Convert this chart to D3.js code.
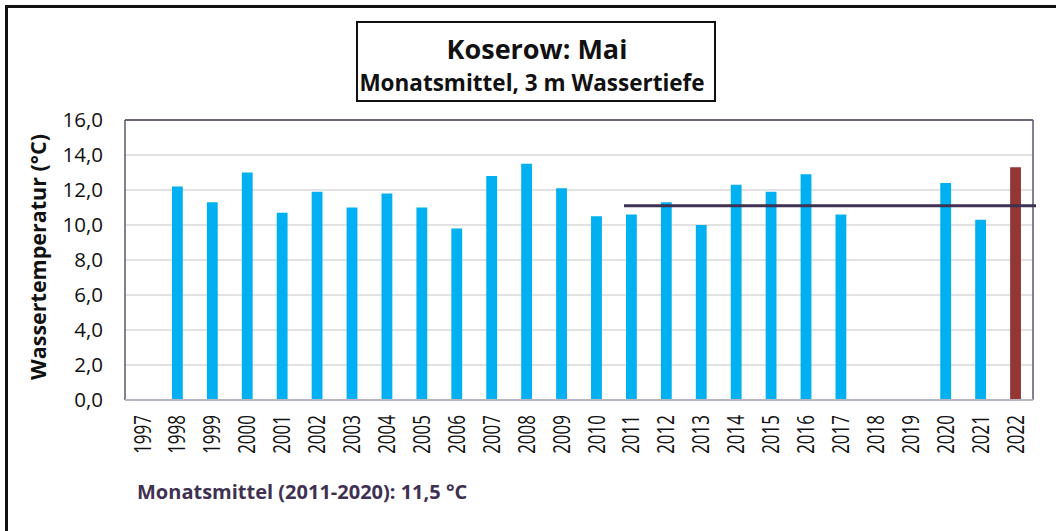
<!DOCTYPE html>
<html>
<head>
<meta charset="utf-8">
<script src="https://cdn.jsdelivr.net/npm/d3@7"></script>
<style>
  body { margin: 0; background: #fff; }
  svg { display: block; }
  text { font-family: "Open Sans", sans-serif; }
</style>
</head>
<body>
<div id="chart"></div>
<script>
// Koserow, May: monthly mean water temperature at 3 m depth
const years = d3.range(1997, 2023).map(String);
const temps = [null, 12.2, 11.3, 13.0, 10.7, 11.9, 11.0, 11.8, 11.0, 9.8,
  12.8, 13.5, 12.1, 10.5, 10.6, 11.3, 10.0, 12.3, 11.9, 12.9,
  10.6, null, null, 12.4, 10.3, 13.3];
const currentYear = '2022';
const meanValue = 11.1;      // drawn level of the 2011-2020 mean line
const meanFrom = '2011';
const yTicks = [0, 2, 4, 6, 8, 10, 12, 14, 16];

const titleText = 'Koserow: Mai';
const subtitleText = 'Monatsmittel, 3 m Wassertiefe';
const yLabel = 'Wassertemperatur (°C)';
const noteText = 'Monatsmittel (2011-2020): 11,5 °C';

const W = 1056, H = 531;
const margin = {top: 120, right: 23, bottom: 131, left: 125};

const data = years.map((y, i) => ({year: y, value: temps[i]}));

const svg = d3.select('#chart').append('svg')
    .attr('width', W)
    .attr('height', H);

// outer frame (only top and left visible)
svg.append('path')
    .attr('d', `M6.5,${H} V6.5 H${W}`)
    .attr('fill', 'none')
    .attr('stroke', '#111')
    .attr('stroke-width', 3);

const x = d3.scaleBand()
    .domain(years)
    .range([margin.left, W - margin.right])
    .paddingInner(0.69)
    .paddingOuter(0.345);

const y = d3.scaleLinear()
    .domain([0, 16])
    .range([H - margin.bottom, margin.top]);

const fmt = d => d3.format('.1f')(d).replace('.', ',');

// gridlines
svg.append('g')
    .attr('class', 'grid')
  .selectAll('line')
  .data(yTicks.filter(d => d > 0 && d < 16))
  .join('line')
    .attr('x1', margin.left)
    .attr('x2', W - margin.right)
    .attr('y1', d => y(d))
    .attr('y2', d => y(d))
    .attr('stroke', '#d9d9d9')
    .attr('stroke-width', 1.5);

// bars
svg.append('g')
    .attr('class', 'bars')
  .selectAll('rect')
  .data(data.filter(d => d.value != null))
  .join('rect')
    .attr('x', d => x(d.year))
    .attr('width', x.bandwidth())
    .attr('y', d => y(d.value))
    .attr('height', d => y(0) - y(d.value))
    .attr('fill', d => d.year === currentYear ? '#943634' : '#00b0f0');

// plot frame
const x0 = margin.left, x1 = W - margin.right;
svg.append('line')
    .attr('x1', x0).attr('x2', x1)
    .attr('y1', y(16)).attr('y2', y(16))
    .attr('stroke', '#3f3151').attr('stroke-width', 1.5);
svg.append('line')
    .attr('x1', x1).attr('x2', x1)
    .attr('y1', y(16)).attr('y2', y(0))
    .attr('stroke', '#5f5370').attr('stroke-width', 1.5);
svg.append('line')
    .attr('x1', x0).attr('x2', x0)
    .attr('y1', y(16)).attr('y2', y(0))
    .attr('stroke', '#5f5370').attr('stroke-width', 1.5);
svg.append('line')
    .attr('x1', x0).attr('x2', x1)
    .attr('y1', y(0)).attr('y2', y(0))
    .attr('stroke', '#b8b4c0').attr('stroke-width', 2);

// mean line
svg.append('line')
    .attr('x1', x(meanFrom) - 2)
    .attr('x2', x1 + 3)
    .attr('y1', y(meanValue))
    .attr('y2', y(meanValue))
    .attr('stroke', '#3f3151')
    .attr('stroke-width', 3);

// y axis labels
svg.append('g')
  .selectAll('text')
  .data(yTicks)
  .join('text')
    .attr('x', 103)
    .attr('y', d => y(d))
    .attr('dy', '0.35em')
    .attr('text-anchor', 'end')
    .attr('font-size', 20.5)
    .attr('fill', '#111')
    .text(fmt);

// x axis labels
svg.append('g')
  .selectAll('text')
  .data(years)
  .join('text')
    .attr('transform', d => `translate(${x(d) + x.bandwidth() / 2},415) rotate(-90) scale(1,1.35)`)
    .attr('dy', '0.35em')
    .attr('text-anchor', 'end')
    .attr('font-family', '"DejaVu Sans", sans-serif')
    .attr('font-size', 17)
    .attr('fill', '#111')
    .text(d => d);

// y axis title
svg.append('text')
    .attr('transform', `translate(46,${(y(0) + y(16)) / 2 - 3}) rotate(-90)`)
    .attr('text-anchor', 'middle')
    .attr('font-size', 21.5)
    .attr('font-weight', 'bold')
    .attr('fill', '#111')
    .text(yLabel);

// title box
svg.append('rect')
    .attr('x', 357).attr('y', 22)
    .attr('width', 358).attr('height', 79)
    .attr('fill', '#fff')
    .attr('stroke', '#111')
    .attr('stroke-width', 2);
svg.append('text')
    .attr('x', 537).attr('y', 59)
    .attr('text-anchor', 'middle')
    .attr('font-size', 27)
    .attr('font-weight', 'bold')
    .attr('fill', '#111')
    .text(titleText);
svg.append('text')
    .attr('x', 532).attr('y', 91)
    .attr('text-anchor', 'middle')
    .attr('font-size', 22.5)
    .attr('font-weight', 'bold')
    .attr('fill', '#111')
    .text(subtitleText);

// note
svg.append('text')
    .attr('x', 137).attr('y', 499)
    .attr('font-size', 20)
    .attr('font-weight', 'bold')
    .attr('fill', '#3f3151')
    .text(noteText);
</script>
</body>
</html>
